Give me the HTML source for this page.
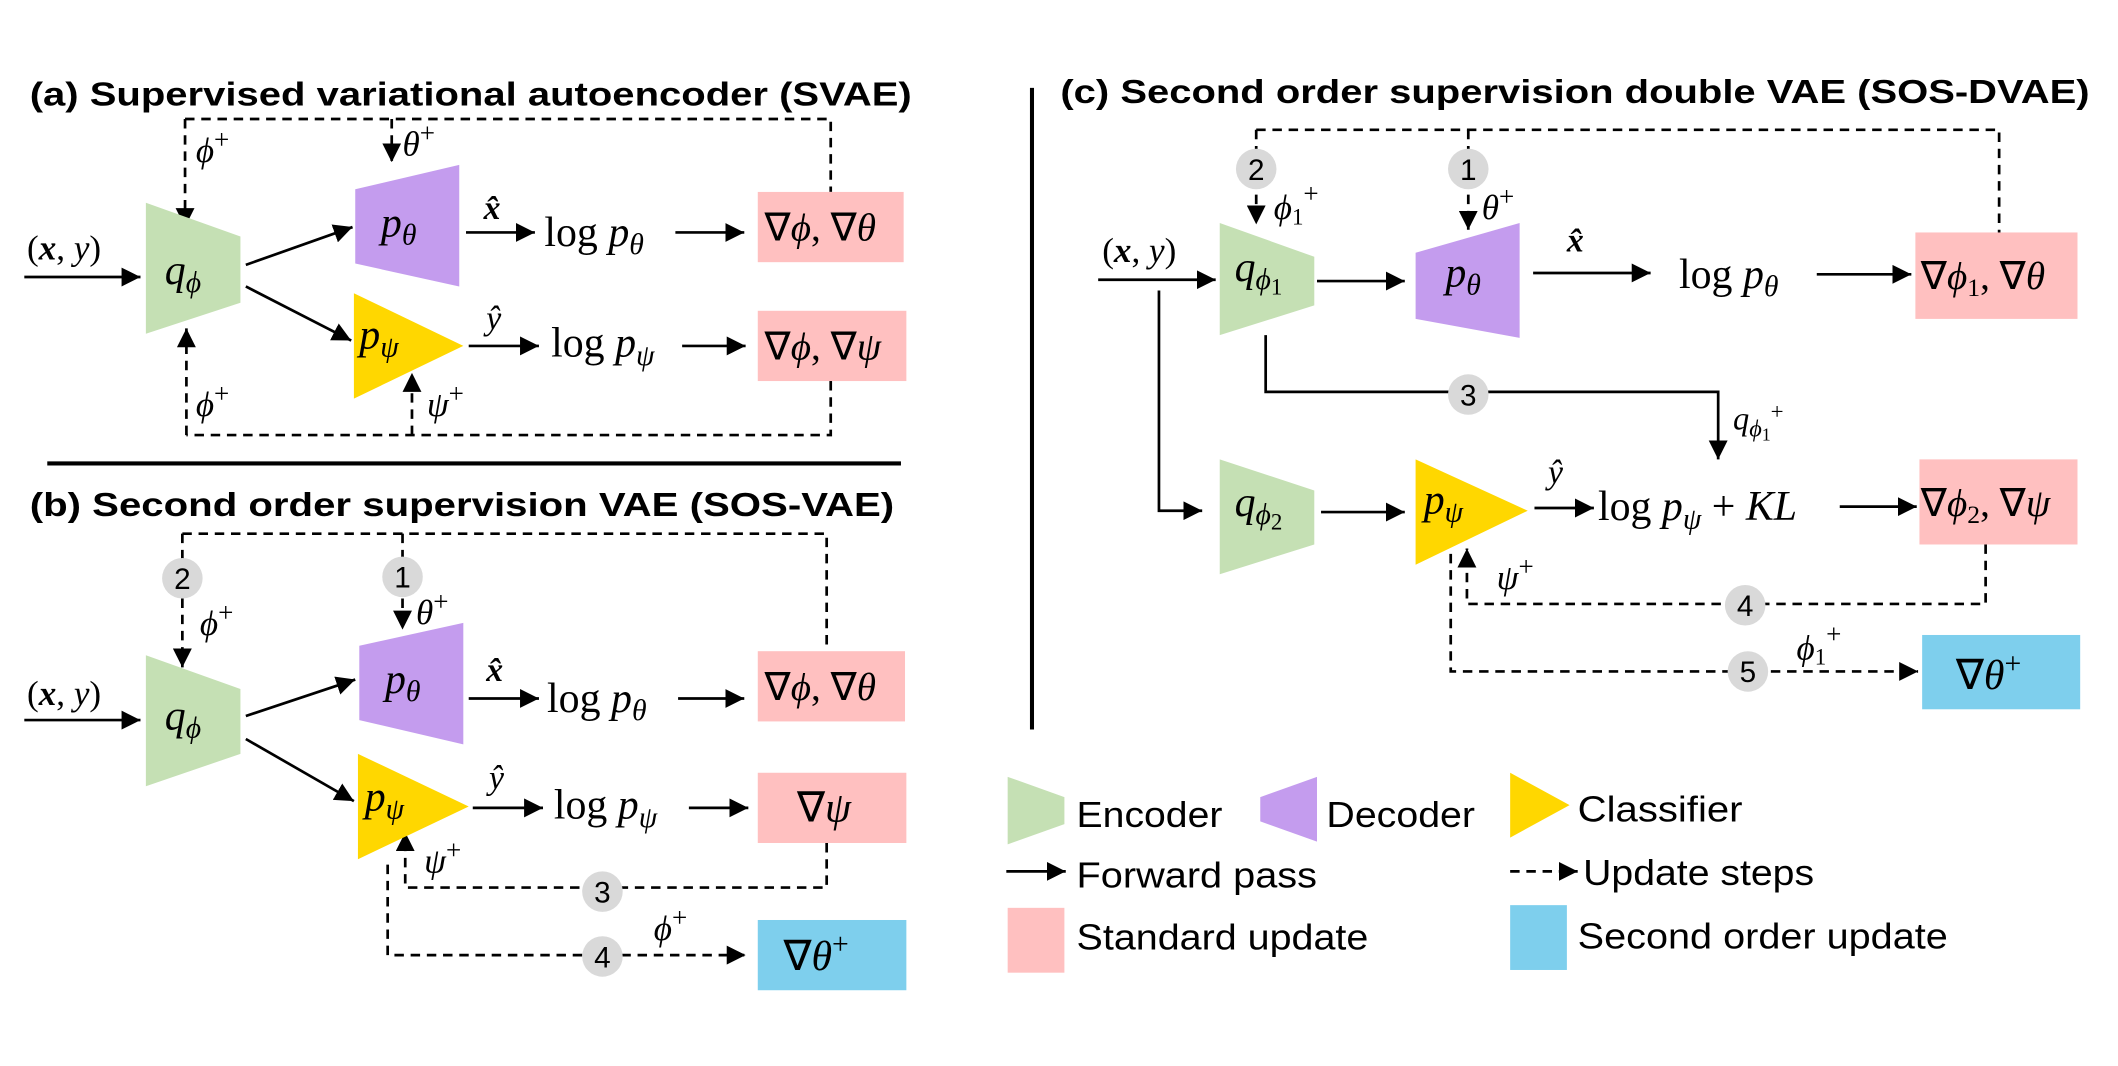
<!DOCTYPE html>
<html><head><meta charset="utf-8"><style>
html,body{margin:0;padding:0;background:#fff;}
svg{display:block;}
.t{font-family:"Liberation Sans",Arial,sans-serif;font-weight:bold;font-size:25px;}
.m{font-family:"Liberation Serif",serif;font-style:italic;font-size:31px;}
.r{font-family:"Liberation Serif",serif;font-size:31px;}
.l{font-family:"Liberation Sans",Arial,sans-serif;font-size:27px;}
.n{font-family:"Liberation Sans",Arial,sans-serif;font-size:22px;text-anchor:middle;}
.s{stroke:#000;stroke-width:2;fill:none;}
.d{stroke:#000;stroke-width:2;fill:none;stroke-dasharray:7,5;}
</style></head><body>
<svg width="2118" height="1066" viewBox="0 0 1568 789" xmlns="http://www.w3.org/2000/svg">
<defs>
<marker id="a" viewBox="0 0 10 10" refX="10" refY="5" markerWidth="7" markerHeight="7" orient="auto-start-reverse" markerUnits="strokeWidth"><path d="M0,0L10,5L0,10z" fill="#000"/></marker>
</defs>
<!-- (a) -->
<text class="t" x="22" y="78" textLength="653" lengthAdjust="spacingAndGlyphs">(a) Supervised variational autoencoder (SVAE)</text>
<path class="d" d="M137,88H615V142"/>
<path class="d" d="M137,88V168" marker-end="url(#a)"/>
<path class="d" d="M290,88V120" marker-end="url(#a)"/>
<path class="d" d="M615,282V322H138"/>
<path class="d" d="M138,322V243" marker-end="url(#a)"/>
<path class="d" d="M305,322V276" marker-end="url(#a)"/>
<polygon points="108,150 178,175 178,224 108,247" fill="#c5e0b4"/>
<polygon points="263,140 340,122 340,212 263,195" fill="#c49cee"/>
<polygon points="262,217 262,295 343,256" fill="#ffd700"/>
<path class="s" d="M18,205H104" marker-end="url(#a)"/>
<path class="s" d="M182,196L261,168" marker-end="url(#a)"/>
<path class="s" d="M182,212L260,252" marker-end="url(#a)"/>
<path class="s" d="M345,172H396" marker-end="url(#a)"/>
<path class="s" d="M500,172H551" marker-end="url(#a)"/>
<path class="s" d="M347,256H399" marker-end="url(#a)"/>
<path class="s" d="M505,256H552" marker-end="url(#a)"/>
<rect x="561" y="142" width="108" height="52" fill="#ffc0c0"/>
<rect x="561" y="230" width="110" height="52" fill="#ffc0c0"/>
<text class="r" x="20" y="192" style="font-size:26px">(<tspan font-weight="bold" font-style="italic">x</tspan>, <tspan font-style="italic">y</tspan>)</text>
<text class="m" x="122" y="210">q<tspan font-size="22" dy="6">ϕ</tspan></text>
<text class="m" x="282" y="175">p<tspan font-size="22" dy="6">θ</tspan></text>
<text class="m" x="266" y="258">p<tspan font-size="22" dy="6">ψ</tspan></text>
<text class="m" x="358" y="162" font-weight="bold" style="font-size:25px">x̂</text>
<text class="m" x="360" y="244" style="font-size:25px">ŷ</text>
<text class="r" x="403" y="182">log <tspan font-style="italic">p</tspan><tspan font-style="italic" font-size="22" dy="6">θ</tspan></text>
<text class="r" x="408" y="264">log <tspan font-style="italic">p</tspan><tspan font-style="italic" font-size="22" dy="6">ψ</tspan></text>
<text class="r" x="566" y="178" style="font-size:29px">∇<tspan font-style="italic">ϕ</tspan>, ∇<tspan font-style="italic">θ</tspan></text>
<text class="r" x="566" y="266" style="font-size:29px">∇<tspan font-style="italic">ϕ</tspan>, ∇<tspan font-style="italic">ψ</tspan></text>
<text class="m" x="145" y="120" style="font-size:26px">ϕ<tspan font-size="20" dy="-10" font-style="normal">+</tspan></text>
<text class="m" x="298" y="115" style="font-size:26px">θ<tspan font-size="20" dy="-10" font-style="normal">+</tspan></text>
<text class="m" x="145" y="308" style="font-size:26px">ϕ<tspan font-size="20" dy="-10" font-style="normal">+</tspan></text>
<text class="m" x="316" y="308" style="font-size:26px">ψ<tspan font-size="20" dy="-10" font-style="normal">+</tspan></text>
<line x1="35" y1="343" x2="667" y2="343" stroke="#000" stroke-width="3"/>
<!-- (b) -->
<text class="t" x="22" y="382" textLength="640" lengthAdjust="spacingAndGlyphs">(b) Second order supervision VAE (SOS-VAE)</text>
<path class="d" d="M135,395H612V482"/>
<path class="d" d="M135,395V494" marker-end="url(#a)"/>
<path class="d" d="M298,395V466" marker-end="url(#a)"/>
<path class="d" d="M612,624V657H300V616" marker-end="url(#a)"/>
<path class="d" d="M287,640V707H552" marker-end="url(#a)"/>
<circle cx="135" cy="428" r="15" fill="#d9d9d9"/><text class="n" x="135" y="436">2</text>
<circle cx="298" cy="427" r="15" fill="#d9d9d9"/><text class="n" x="298" y="435">1</text>
<circle cx="446" cy="660" r="15" fill="#d9d9d9"/><text class="n" x="446" y="668">3</text>
<circle cx="446" cy="708" r="15" fill="#d9d9d9"/><text class="n" x="446" y="716">4</text>
<polygon points="108,485 178,510 178,558 108,582" fill="#c5e0b4"/>
<polygon points="266,478 343,461 343,551 266,533" fill="#c49cee"/>
<polygon points="265,558 265,636 347,597" fill="#ffd700"/>
<path class="s" d="M18,533H104" marker-end="url(#a)"/>
<path class="s" d="M182,530L263,503" marker-end="url(#a)"/>
<path class="s" d="M182,547L262,593" marker-end="url(#a)"/>
<path class="s" d="M347,517H399" marker-end="url(#a)"/>
<path class="s" d="M502,517H551" marker-end="url(#a)"/>
<path class="s" d="M350,598H402" marker-end="url(#a)"/>
<path class="s" d="M510,598H554" marker-end="url(#a)"/>
<rect x="561" y="482" width="109" height="52" fill="#ffc0c0"/>
<rect x="561" y="572" width="110" height="52" fill="#ffc0c0"/>
<rect x="561" y="681" width="110" height="52" fill="#7ecfed"/>
<text class="r" x="20" y="522" style="font-size:26px">(<tspan font-weight="bold" font-style="italic">x</tspan>, <tspan font-style="italic">y</tspan>)</text>
<text class="m" x="122" y="540">q<tspan font-size="22" dy="6">ϕ</tspan></text>
<text class="m" x="285" y="513">p<tspan font-size="22" dy="6">θ</tspan></text>
<text class="m" x="270" y="600">p<tspan font-size="22" dy="6">ψ</tspan></text>
<text class="m" x="360" y="504" font-weight="bold" style="font-size:25px">x̂</text>
<text class="m" x="362" y="584" style="font-size:25px">ŷ</text>
<text class="r" x="405" y="527">log <tspan font-style="italic">p</tspan><tspan font-style="italic" font-size="22" dy="6">θ</tspan></text>
<text class="r" x="410" y="606">log <tspan font-style="italic">p</tspan><tspan font-style="italic" font-size="22" dy="6">ψ</tspan></text>
<text class="r" x="566" y="518" style="font-size:29px">∇<tspan font-style="italic">ϕ</tspan>, ∇<tspan font-style="italic">θ</tspan></text>
<text class="r" x="590" y="608">∇<tspan font-style="italic">ψ</tspan></text>
<text class="r" x="580" y="718">∇<tspan font-style="italic">θ</tspan><tspan font-size="22" dy="-12">+</tspan></text>
<text class="m" x="148" y="470" style="font-size:26px">ϕ<tspan font-size="20" dy="-10" font-style="normal">+</tspan></text>
<text class="m" x="308" y="462" style="font-size:26px">θ<tspan font-size="20" dy="-10" font-style="normal">+</tspan></text>
<text class="m" x="314" y="646" style="font-size:26px">ψ<tspan font-size="20" dy="-10" font-style="normal">+</tspan></text>
<text class="m" x="484" y="696" style="font-size:26px">ϕ<tspan font-size="20" dy="-10" font-style="normal">+</tspan></text>
<!-- separator -->
<line x1="764" y1="65" x2="764" y2="540" stroke="#000" stroke-width="3"/>
<!-- (c) -->
<text class="t" x="785" y="76" textLength="762" lengthAdjust="spacingAndGlyphs">(c) Second order supervision double VAE (SOS-DVAE)</text>
<path class="d" d="M930,96H1480V172"/>
<path class="d" d="M930,96V166" marker-end="url(#a)"/>
<path class="d" d="M1087,96V170" marker-end="url(#a)"/>
<path class="d" d="M1470,403V447H1086V406" marker-end="url(#a)"/>
<path class="d" d="M1074,410V497H1420" marker-end="url(#a)"/>
<path class="s" d="M937,248V290H1272V340" marker-end="url(#a)"/>
<path class="s" d="M813,207H900" marker-end="url(#a)"/>
<path class="s" d="M858,215V378H890" marker-end="url(#a)"/>
<path class="s" d="M975,208H1040" marker-end="url(#a)"/>
<path class="s" d="M1135,202H1222" marker-end="url(#a)"/>
<path class="s" d="M1345,203H1415" marker-end="url(#a)"/>
<path class="s" d="M978,379H1040" marker-end="url(#a)"/>
<path class="s" d="M1136,376H1180" marker-end="url(#a)"/>
<path class="s" d="M1362,375H1419" marker-end="url(#a)"/>
<polygon points="903,165 973,190 973,226 903,248" fill="#c5e0b4"/>
<polygon points="903,340 973,363 973,403 903,425" fill="#c5e0b4"/>
<polygon points="1048,187 1125,165 1125,250 1048,236" fill="#c49cee"/>
<polygon points="1048,340 1048,418 1131,378" fill="#ffd700"/>
<rect x="1418" y="172" width="120" height="64" fill="#ffc0c0"/>
<rect x="1421" y="340" width="117" height="63" fill="#ffc0c0"/>
<rect x="1423" y="470" width="117" height="55" fill="#7ecfed"/>
<circle cx="930" cy="125" r="15" fill="#d9d9d9"/><text class="n" x="930" y="133">2</text>
<circle cx="1087" cy="125" r="15" fill="#d9d9d9"/><text class="n" x="1087" y="133">1</text>
<circle cx="1087" cy="292" r="15" fill="#d9d9d9"/><text class="n" x="1087" y="300">3</text>
<circle cx="1292" cy="448" r="15" fill="#d9d9d9"/><text class="n" x="1292" y="456">4</text>
<circle cx="1294" cy="497" r="15" fill="#d9d9d9"/><text class="n" x="1294" y="505">5</text>
<text class="r" x="816" y="194" style="font-size:26px">(<tspan font-weight="bold" font-style="italic">x</tspan>, <tspan font-style="italic">y</tspan>)</text>
<text class="m" x="914" y="208">q<tspan font-size="22" dy="6">ϕ</tspan><tspan font-size="17" dy="4" font-style="normal">1</tspan></text>
<text class="m" x="914" y="382">q<tspan font-size="22" dy="6">ϕ</tspan><tspan font-size="17" dy="4" font-style="normal">2</tspan></text>
<text class="m" x="1070" y="212">p<tspan font-size="22" dy="6">θ</tspan></text>
<text class="m" x="1054" y="380">p<tspan font-size="22" dy="6">ψ</tspan></text>
<text class="m" x="1160" y="186" font-weight="bold" style="font-size:25px">x̂</text>
<text class="m" x="1146" y="358" style="font-size:25px">ŷ</text>
<text class="r" x="1243" y="213">log <tspan font-style="italic">p</tspan><tspan font-style="italic" font-size="22" dy="6">θ</tspan></text>
<text class="r" x="1183" y="385">log <tspan font-style="italic">p</tspan><tspan font-style="italic" font-size="22" dy="6">ψ</tspan><tspan dy="-6"> + </tspan><tspan font-style="italic">KL</tspan></text>
<text class="r" x="1422" y="214" style="font-size:29px">∇<tspan font-style="italic">ϕ</tspan><tspan font-size="19" dy="5">1</tspan><tspan dy="-5">, ∇</tspan><tspan font-style="italic">θ</tspan></text>
<text class="r" x="1422" y="382" style="font-size:29px">∇<tspan font-style="italic">ϕ</tspan><tspan font-size="19" dy="5">2</tspan><tspan dy="-5">, ∇</tspan><tspan font-style="italic">ψ</tspan></text>
<text class="r" x="1448" y="510">∇<tspan font-style="italic">θ</tspan><tspan font-size="22" dy="-12">+</tspan></text>
<text class="m" x="943" y="162" style="font-size:26px">ϕ<tspan font-size="17" dy="4" font-style="normal">1</tspan><tspan font-size="20" dy="-16" font-style="normal">+</tspan></text>
<text class="m" x="1097" y="162" style="font-size:26px">θ<tspan font-size="20" dy="-10" font-style="normal">+</tspan></text>
<text class="m" x="1283" y="318" style="font-size:24px">q<tspan font-size="18" dy="5">ϕ</tspan><tspan font-size="13" dy="3" font-style="normal">1</tspan><tspan font-size="17" dy="-16" font-style="normal">+</tspan></text>
<text class="m" x="1108" y="436" style="font-size:26px">ψ<tspan font-size="20" dy="-10" font-style="normal">+</tspan></text>
<text class="m" x="1330" y="488" style="font-size:26px">ϕ<tspan font-size="17" dy="4" font-style="normal">1</tspan><tspan font-size="20" dy="-16" font-style="normal">+</tspan></text>
<!-- legend -->
<polygon points="746,575 788,590 788,610 746,625" fill="#c5e0b4"/>
<text class="l" x="797" y="612" textLength="108" lengthAdjust="spacingAndGlyphs">Encoder</text>
<polygon points="933,590 975,575 975,623 933,608" fill="#c49cee"/>
<text class="l" x="982" y="612" textLength="110" lengthAdjust="spacingAndGlyphs">Decoder</text>
<polygon points="1118,572 1118,620 1162,596" fill="#ffd700"/>
<text class="l" x="1168" y="608" textLength="122" lengthAdjust="spacingAndGlyphs">Classifier</text>
<path class="s" d="M745,645H789" marker-end="url(#a)"/>
<text class="l" x="797" y="657" textLength="178" lengthAdjust="spacingAndGlyphs">Forward pass</text>
<path class="d" d="M1118,645H1168" marker-end="url(#a)"/>
<text class="l" x="1172" y="655" textLength="171" lengthAdjust="spacingAndGlyphs">Update steps</text>
<rect x="746" y="672" width="42" height="48" fill="#ffc0c0"/>
<text class="l" x="797" y="703" textLength="216" lengthAdjust="spacingAndGlyphs">Standard update</text>
<rect x="1118" y="670" width="42" height="48" fill="#7ecfed"/>
<text class="l" x="1168" y="702" textLength="274" lengthAdjust="spacingAndGlyphs">Second order update</text>
</svg>
</body></html>
